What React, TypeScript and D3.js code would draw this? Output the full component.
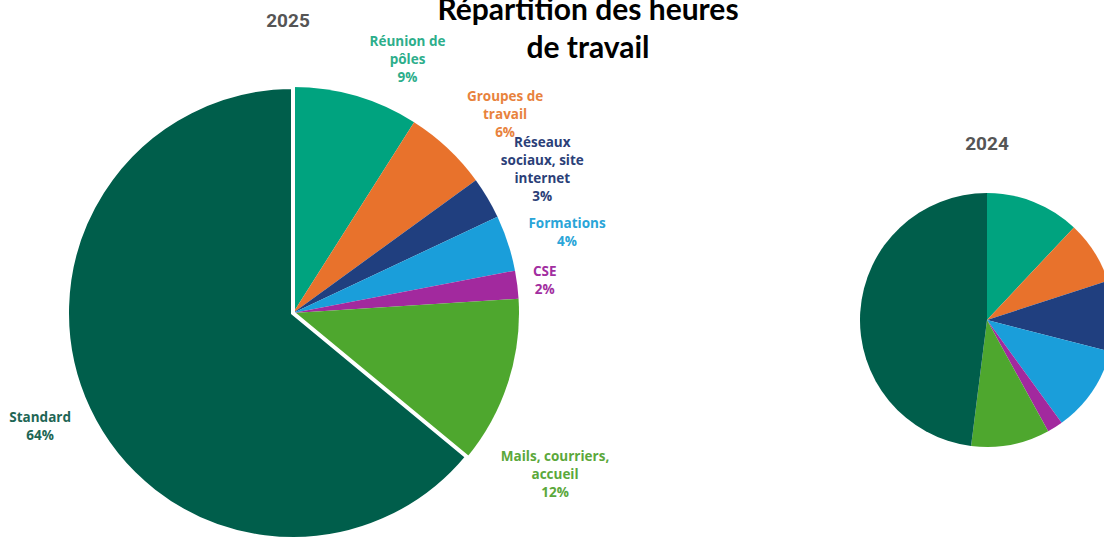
import React from "react";
import * as d3 from "d3";

const categories = [
  "Réunion de pôles",
  "Groupes de travail",
  "Réseaux sociaux, site internet",
  "Formations",
  "CSE",
  "Mails, courriers, accueil",
  "Standard",
];
const labelLines = [
  ["Réunion de", "pôles"],
  ["Groupes de", "travail"],
  ["Réseaux", "sociaux, site", "internet"],
  ["Formations"],
  ["CSE"],
  ["Mails, courriers,", "accueil"],
  ["Standard"],
];
const values2025 = [9, 6, 3, 4, 2, 12, 64];
const values2024 = [12, 8, 9, 11, 2, 10, 48];
const sliceColors = ["#00A37F", "#E8722C", "#203F7F", "#1A9EDA", "#A2299E", "#4EA72E", "#005E4B"];
const labelColors = ["#2DAE8B", "#E8823D", "#2B3F78", "#2AA5D8", "#A22EA0", "#5BA83B", "#1E6655"];

// label placement nudges (px) relative to the centroid at the label radius
const labelNudges = [
  [35, 21],
  [17, 10],
  [4, 2],
  [3, 8],
  [-31, 4],
  [-9, 74],
  [5, -7],
];

const W = 1104;
const H = 541;

function Pie({ values, cx, cy, r, labels, standardStroke }: any) {
  const pie = d3.pie<number>().sort(null).value((d) => d).startAngle(0).endAngle(2 * Math.PI);
  const arcs = pie(values);
  const arc = d3.arc<d3.PieArcDatum<number>>().innerRadius(0).outerRadius(r);
  const labelArc = d3.arc<d3.PieArcDatum<number>>().innerRadius(285).outerRadius(285);
  const total = d3.sum(values);
  return (
    <g transform={`translate(${cx},${cy})`}>
      {arcs.map((a, i) =>
        i === arcs.length - 1 ? null : (
          <path key={i} d={arc(a) || ""} fill={sliceColors[i]} />
        )
      )}
      <path
        d={arc(arcs[arcs.length - 1]) || ""}
        fill={sliceColors[arcs.length - 1]}
        stroke={standardStroke ? "#fff" : "none"}
        strokeWidth={standardStroke ? 4 : 0}
        strokeLinejoin="miter"
      />
      {labels &&
        arcs.map((a, i) => {
          const [lx, ly] = labelArc.centroid(a);
          const x = lx + labelNudges[i][0];
          const lines = [...labelLines[i], `${Math.round((values[i] / total) * 100)}%`];
          const lh = 18;
          const y0 = ly + labelNudges[i][1] - ((lines.length - 1) * lh) / 2;
          return (
            <text
              key={"l" + i}
              x={x}
              y={y0}
              textAnchor="middle"
              fontFamily="'Open Sans', sans-serif"
              fontWeight={700}
              fontSize={13.5}
              fill={labelColors[i]}
              dominantBaseline="middle"
            >
              {lines.map((t, j) => (
                <tspan key={j} x={x} dy={j === 0 ? 0 : lh}>
                  {t}
                </tspan>
              ))}
            </text>
          );
        })}
    </g>
  );
}

export default function App() {
  return (
    <svg
      width={W}
      height={H}
      style={{ position: "absolute", left: 0, top: 0, background: "#fff" }}
    >
      <rect width={W} height={H} fill="#fff" />
      <text
        x={588}
        y={20}
        textAnchor="middle"
        fontFamily="Lato, sans-serif"
        fontWeight={700}
        fontSize={30}
        fill="#000"
      >
        <tspan x={588}>Répartition des heures</tspan>
        <tspan x={588} dy={38}>de travail</tspan>
      </text>
      <text x={288} y={27} textAnchor="middle" fontFamily="Roboto, sans-serif" fontWeight={700} fontSize={19} fill="#555">
        2025
      </text>
      <text x={987} y={150} textAnchor="middle" fontFamily="Roboto, sans-serif" fontWeight={700} fontSize={19} fill="#555">
        2024
      </text>
      <Pie values={values2025} cx={293} cy={313} r={226} labels standardStroke />
      <Pie values={values2024} cx={987} cy={320} r={127} labels={false} standardStroke={false} />
    </svg>
  );
}
